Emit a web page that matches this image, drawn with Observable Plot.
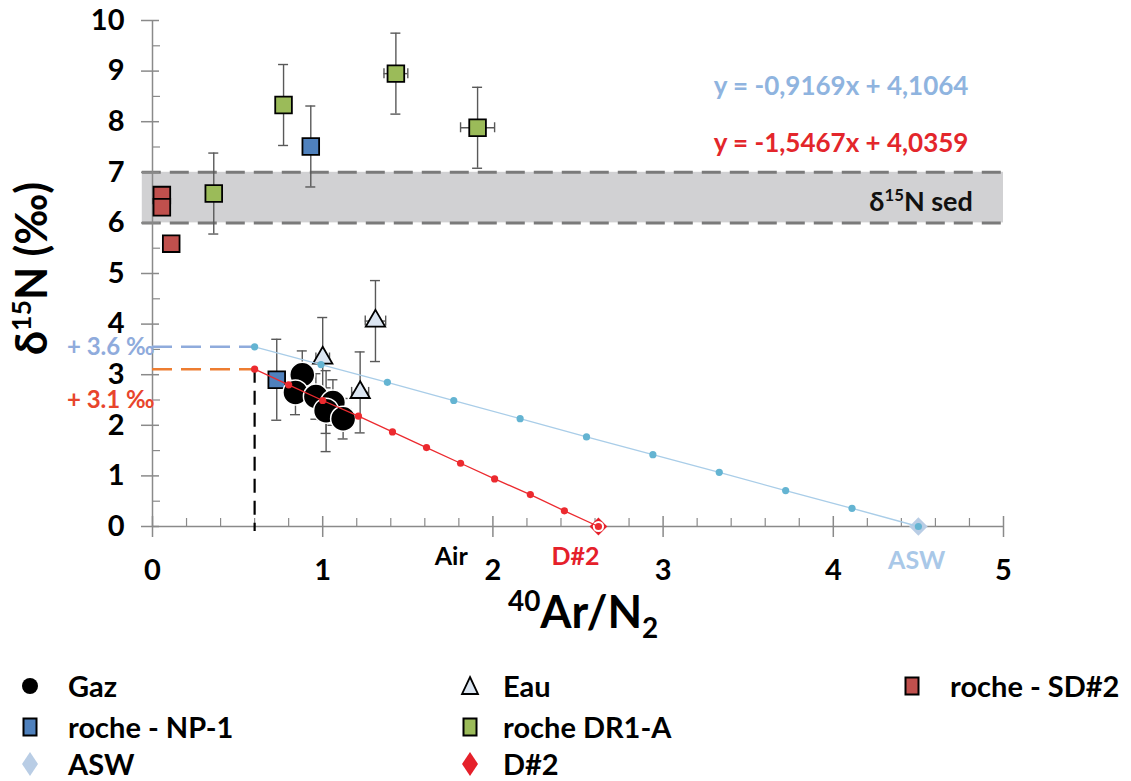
<!DOCTYPE html>
<html><head><meta charset="utf-8">
<script src="https://cdn.jsdelivr.net/npm/d3@7"></script>
<script src="https://cdn.jsdelivr.net/npm/@observablehq/plot@0.6"></script>
<style>
body{margin:0;background:#fff;font-family:Lato,"Open Sans",sans-serif;}
#wrap{position:relative;width:1131px;height:781px;overflow:hidden;}
.leg{position:absolute;font-weight:700;font-size:29px;color:#000;line-height:26px;white-space:nowrap;}
.legmark{position:absolute;}
</style></head><body><div id="wrap"></div>
<script>
// ---------- data ----------
const xTickValues = [0, 1, 2, 3, 4, 5];
const yTickValues = [0, 1, 2, 3, 4, 5, 6, 7, 8, 9, 10];
const xMinorTicks = [0.2,0.4,0.6,0.8,1.2,1.4,1.6,1.8,2.2,2.4,2.6,2.8,3.2,3.4,3.6,3.8,4.2,4.4,4.6,4.8];
const yMinorTicks = [0.5,1.5,2.5,3.5,4.5,5.5,6.5,7.5,8.5,9.5];

const gazX = [0.88, 0.84, 0.96, 1.06, 1.02, 1.12];
const gazY = [3.00, 2.65, 2.57, 2.45, 2.29, 2.13];
const gazErrY = [0.47, 0.44, 0.45, 0.45, 0.45, 0.40];
const gazErrX = [0.03, 0.03, 0.03, 0.03, 0.03, 0.03];

const np1X = [0.93, 0.73, 1.02];
const np1Y = [7.51, 2.90, 2.28];
const np1ErrY = [0.8, 0.8, 0.8];

const dr1aX = [0.77, 1.43, 1.91, 0.36];
const dr1aY = [8.33, 8.95, 7.88, 6.58];
const dr1aErrY = [0.8, 0.8, 0.8, 0.8];
const dr1aErrX = [0, 0.07, 0.10, 0];

const sd2X = [0.055, 0.055, 0.11];
const sd2Y = [6.55, 6.31, 5.59];

const eauX = [1.00, 1.22, 1.31];
const eauY = [3.33, 2.65, 4.06];
const eauErrY = [0.8, 0.8, 0.8];
const eauErrX = [0.04, 0.05, 0.06];

const aswX = [4.5], aswY = [0];
const d2X = [2.62], d2Y = [0];

const mixAswX = [0.6, 0.99, 1.38, 1.77, 2.16, 2.55, 2.94, 3.33, 3.72, 4.11, 4.5];
const mixAswY = [3.55, 3.20, 2.85, 2.49, 2.13, 1.77, 1.42, 1.07, 0.71, 0.36, 0];
const mixD2X = [0.6, 0.8, 1.0, 1.21, 1.41, 1.61, 1.81, 2.01, 2.22, 2.42, 2.62];
const mixD2Y = [3.11, 2.80, 2.49, 2.18, 1.87, 1.56, 1.25, 0.94, 0.63, 0.31, 0];

const sedBand = [6, 7];
const eqAsw = "y = -0,9169x + 4,1064";
const eqD2 = "y = -1,5467x + 4,0359";
const labelAsw = "+ 3.6 ‰";
const labelD2 = "+ 3.1 ‰";

// ---------- tables ----------
const tbl = (X, Y, EY, EX) => X.map((x, i) => ({x, y: Y[i], ey: EY ? EY[i] : 0, ex: EX ? EX[i] : 0}));
const gaz = tbl(gazX, gazY, gazErrY, gazErrX);
const np1 = tbl(np1X, np1Y, np1ErrY);
const dr1a = tbl(dr1aX, dr1aY, dr1aErrY, dr1aErrX);
const sd2 = tbl(sd2X, sd2Y);
const eau = tbl(eauX, eauY, eauErrY, eauErrX);
const asw = tbl(aswX, aswY);
const d2 = tbl(d2X, d2Y);
const mixAsw = tbl(mixAswX, mixAswY);
const mixD2 = tbl(mixD2X, mixD2Y);

const ERR = "#595959";
function errMarks(data) {
  const v = data.filter(d => d.ey > 0), h = data.filter(d => d.ex > 0);
  const o = {stroke: ERR, strokeWidth: 1.4};
  return [
    Plot.ruleX(v, {x: "x", y1: d => d.y - d.ey, y2: d => d.y + d.ey, ...o}),
    Plot.ruleY(v, {y: d => d.y - d.ey, x1: "x", x2: "x", insetLeft: -5, insetRight: -5, ...o}),
    Plot.ruleY(v, {y: d => d.y + d.ey, x1: "x", x2: "x", insetLeft: -5, insetRight: -5, ...o}),
    Plot.ruleY(h, {y: "y", x1: d => d.x - d.ex, x2: d => d.x + d.ex, ...o}),
    Plot.ruleX(h, {x: d => d.x - d.ex, y1: "y", y2: "y", insetTop: -5, insetBottom: -5, ...o}),
    Plot.ruleX(h, {x: d => d.x + d.ex, y1: "y", y2: "y", insetTop: -5, insetBottom: -5, ...o})
  ];
}

const AXIS = "#8a8a8a";
const FONT = "Lato, 'Open Sans', sans-serif";

const plot = Plot.plot({
  width: 1131, height: 650,
  marginLeft: 152, marginRight: 128, marginTop: 20, marginBottom: 124,
  x: {domain: [0, 5], axis: null},
  y: {domain: [0, 10], axis: null},
  style: {fontFamily: FONT, background: "white", overflow: "visible"},
  marks: [
    // sediment band
    Plot.rect([sedBand], {x1: -0.06, x2: 5, y1: d => d[0], y2: d => d[1], fill: "#d1d1d3"}),
    Plot.ruleY(sedBand, {y: d => d, x1: -0.06, x2: 5, stroke: "#7a7a7a", strokeWidth: 3, strokeDasharray: "19,9"}),
    // axes lines and ticks
    Plot.ruleY([0], {x1: 0, x2: 5, stroke: AXIS, strokeWidth: 1.5}),
    Plot.ruleX([0], {y1: 0, y2: 10, stroke: AXIS, strokeWidth: 1.5}),
    Plot.ruleX(xTickValues, {x: d => d, y1: 0, y2: 0, insetTop: -10, insetBottom: -11, stroke: AXIS, strokeWidth: 1.5}),
    Plot.ruleX(xMinorTicks, {x: d => d, y1: 0, y2: 0, insetTop: -8, stroke: AXIS, strokeWidth: 1.2}),
    Plot.ruleY(yTickValues, {y: d => d, x1: 0, x2: 0, insetLeft: -11, insetRight: -7, stroke: AXIS, strokeWidth: 1.5}),
    Plot.ruleY(yMinorTicks, {y: d => d, x1: 0, x2: 0, insetRight: -8, stroke: AXIS, strokeWidth: 1.2}),
    Plot.text(xTickValues, {x: d => d, y: 0, dy: 44, text: d => String(d), fontSize: 29, fontWeight: "bold", fill: "#000"}),
    Plot.text(yTickValues, {x: 0, y: d => d, dx: -28, text: d => String(d), textAnchor: "end", fontSize: 29, fontWeight: "bold", fill: "#000"}),
    // reference dashed lines
    Plot.ruleY([mixAsw[0]], {y: "y", x1: 0, x2: "x", stroke: "#8fabdc", strokeWidth: 2.5, strokeDasharray: "20,9"}),
    Plot.ruleY([mixD2[0]], {y: "y", x1: 0, x2: "x", stroke: "#ed7d31", strokeWidth: 2.5, strokeDasharray: "20,9"}),
    Plot.ruleX([mixD2[0]], {x: "x", y1: "y", y2: 0, insetBottom: -5, stroke: "#000", strokeWidth: 2.2, strokeDasharray: "14,8"}),
    // error bars
    ...errMarks(dr1a), ...errMarks(np1), ...errMarks(eau), ...errMarks(gaz),
    // samples
    Plot.dot(sd2, {x: "x", y: "y", symbol: "square", r: 9.4, fill: "#c0504d", stroke: "#000", strokeWidth: 1.8}),
    Plot.dot(dr1a, {x: "x", y: "y", symbol: "square", r: 9.4, fill: "#9bbb59", stroke: "#000", strokeWidth: 1.8}),
    Plot.dot(np1, {x: "x", y: "y", symbol: "square", r: 9.4, fill: "#4f81bd", stroke: "#000", strokeWidth: 1.8}),
    Plot.dot(gaz, {x: "x", y: "y", r: 12.5, fill: "#000", stroke: "#fff", strokeWidth: 1.5}),
    Plot.dot(eau, {x: "x", y: "y", symbol: "triangle", r: 7.2, fill: "#dbe5f1", stroke: "#000", strokeWidth: 1.8}),
    // end members
    Plot.dot(asw, {x: "x", y: "y", symbol: "diamond2", r: 8.3, fill: "#b9cde5"}),
    Plot.dot(d2, {x: "x", y: "y", symbol: "diamond2", r: 8, fill: "#e5202a"}),
    Plot.dot(d2, {x: "x", y: "y", r: 5.6, fill: "#fff"}),
    // mixing lines
    Plot.line(mixAsw, {x: "x", y: "y", stroke: "#a9cde8", strokeWidth: 1.3}),
    Plot.dot(mixAsw, {x: "x", y: "y", r: 3.6, fill: "#64b4d2"}),
    Plot.line(mixD2, {x: "x", y: "y", stroke: "#ec2a2f", strokeWidth: 1.3}),
    Plot.dot(mixD2, {x: "x", y: "y", r: 3.6, fill: "#ec2a2f"}),
    // annotations
    Plot.text([eqAsw], {x: 4.794, y: 8.69, text: d => d, textAnchor: "end", fontSize: 26, fontWeight: "bold", fill: "#8fb4df"}),
    Plot.text([eqD2], {x: 4.794, y: 7.57, text: d => d, textAnchor: "end", fontSize: 26, fontWeight: "bold", fill: "#e3262b"}),
    Plot.text(["δ15N sed"], {x: 4.82, y: 6.41, text: d => d, textAnchor: "end", fontSize: 27, fontWeight: "bold", fill: "#111"}),
    Plot.text([labelAsw], {x: 0, y: mixAswY[0], dx: 2, text: d => d, textAnchor: "end", fontSize: 24, fontWeight: "bold", fill: "#8fabdc"}),
    Plot.text([labelD2], {x: 0, y: 2.5, dx: 2, text: d => d, textAnchor: "end", fontSize: 24, fontWeight: "bold", fill: "#e8452c"}),
    Plot.text(["Air"], {x: 1.755, y: -0.61, text: d => d, fontSize: 25, fontWeight: "bold", fill: "#000"}),
    Plot.text(["D#2"], {x: 2.485, y: -0.61, text: d => d, fontSize: 25, fontWeight: "bold", fill: "#e5202a"}),
    Plot.text(["ASW"], {x: 4.49, y: -0.68, text: d => d, fontSize: 25, fontWeight: "bold", fill: "#a9c8e8"}),
    // axis titles
    Plot.text(["Y_TITLE"], {x: -0.7, y: 5.1, text: d => d, rotate: -90, fontSize: 43, fontWeight: "bold", fill: "#000"}),
    Plot.text(["X_TITLE"], {x: 2.53, y: -1.72, text: d => d, fontSize: 45, fontWeight: "bold", fill: "#000"})
  ]
});

// rich text (super/subscripts)
function rich(svg, plain, parts, F) {
  d3.select(svg).selectAll("text").filter(function () { return this.textContent === plain; }).each(function () {
    const t = d3.select(this); t.text(null);
    let shift = 0;
    parts.forEach(p => {
      const target = p.sup ? -0.38 * F : p.sub ? 0.22 * F : 0;
      const s = t.append("tspan").text(p.t).attr("dy", target - shift);
      if (p.sup || p.sub) s.attr("font-size", 0.62 * F);
      shift = target;
    });
  });
}
rich(plot, "Y_TITLE", [{t: "δ"}, {t: "15", sup: true}, {t: "N (‰)"}], 43);
rich(plot, "X_TITLE", [{t: "40", sup: true}, {t: "Ar/N"}, {t: "2", sub: true}], 45);
rich(plot, "δ15N sed", [{t: "δ"}, {t: "15", sup: true}, {t: "N sed"}], 27);

const wrap = document.getElementById("wrap");
wrap.appendChild(plot);

// ---------- legend ----------
const legendLabels = ["Gaz", "Eau", "roche - SD#2", "roche - NP-1", "roche DR1-A", "ASW", "D#2"];
const legendSymbols = ["circle", "triangle", "square", "square", "square", "diamond", "diamond"];
const legendFills = ["#000", "#dbe5f1", "#c0504d", "#4f81bd", "#9bbb59", "#b9cde5", "#e5202a"];
const legendCols = [0, 1, 2, 0, 1, 0, 1];
const legendRows = [0, 0, 0, 1, 1, 2, 2];
const colMarkX = [30, 470, 912], colTextX = [68, 503, 950], rowY = [686, 727, 764];

legendLabels.forEach((lab, i) => {
  const cx = colMarkX[legendCols[i]], cy = rowY[legendRows[i]];
  const ns = "http://www.w3.org/2000/svg";
  const s = document.createElementNS(ns, "svg");
  s.setAttribute("width", 30); s.setAttribute("height", 30);
  s.setAttribute("class", "legmark");
  s.style.left = (cx - 15) + "px"; s.style.top = (cy - 15) + "px";
  let el;
  const sym = legendSymbols[i];
  if (sym === "circle") { el = document.createElementNS(ns, "circle"); el.setAttribute("cx", 15); el.setAttribute("cy", 15); el.setAttribute("r", 8); }
  else if (sym === "square") { el = document.createElementNS(ns, "rect"); el.setAttribute("x", 8.5); el.setAttribute("y", 6.5); el.setAttribute("width", 13); el.setAttribute("height", 17); el.setAttribute("stroke", "#000"); el.setAttribute("stroke-width", 2); }
  else if (sym === "triangle") { el = document.createElementNS(ns, "path"); el.setAttribute("d", "M15,6 L23,23 L7,23 Z"); el.setAttribute("stroke", "#000"); el.setAttribute("stroke-width", 1.8); }
  else { el = document.createElementNS(ns, "path"); el.setAttribute("d", "M15,3 L23,15 L15,27 L7,15 Z"); }
  el.setAttribute("fill", legendFills[i]);
  s.appendChild(el);
  wrap.appendChild(s);
  const d = document.createElement("div");
  d.className = "leg"; d.textContent = lab;
  d.style.left = colTextX[legendCols[i]] + "px"; d.style.top = (cy - 13) + "px";
  wrap.appendChild(d);
});
</script></body></html>
